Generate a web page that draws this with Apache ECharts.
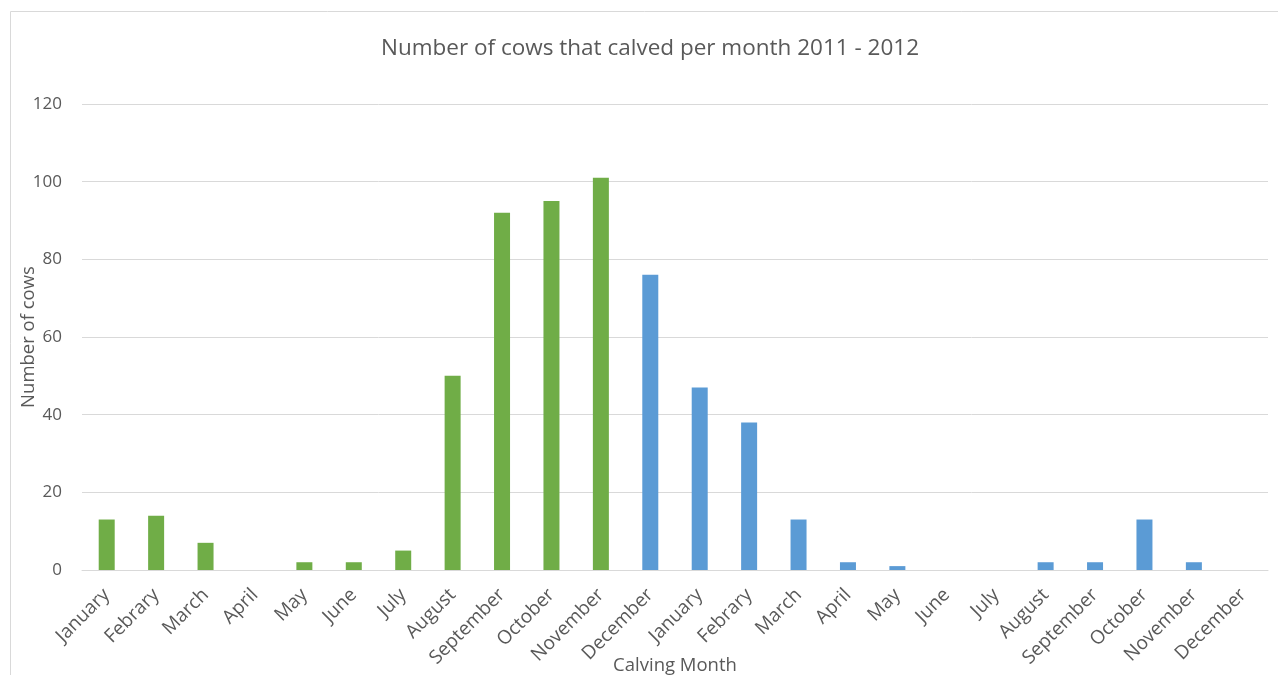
<!DOCTYPE html>
<html><head><meta charset="utf-8">
<script src="https://cdn.jsdelivr.net/npm/echarts@6/dist/echarts.min.js"></script>
<style>html,body{margin:0;padding:0;background:#fff}#c{width:1278px;height:675px}</style>
</head><body><div id="c"></div>
<script>
const months = ["January","Febrary","March","April","May","June","July","August","September","October","November","December","January","Febrary","March","April","May","June","July","August","September","October","November","December"];
const greenValues = [13,14,7,0,2,2,5,50,92,95,101];
const blueValues = [76,47,38,13,2,1,0,0,2,2,13,2,0];
const yTicks = [0,20,40,60,80,100,120];
const titleText = "Number of cows that calved per month 2011 - 2012";

const greenData = months.map((m,i)=> i < greenValues.length ? greenValues[i] : '-');
const blueData = months.map((m,i)=> i >= greenValues.length ? blueValues[i-greenValues.length] : '-');
const font = "'Open Sans', 'Noto Sans', sans-serif";
const chart = echarts.init(document.getElementById('c'));
chart.setOption({
  animation:false,
  textStyle:{fontFamily:font},
  graphic:[{type:'rect',shape:{x:10.5,y:11.5,width:1290,height:700},style:{fill:'none',stroke:'#d9d9d9',lineWidth:1},silent:true}],
  title:{text:titleText,top:37,textStyle:{fontFamily:font,fontSize:22.5,fontWeight:'normal',color:'#595959'},padding:0,
    left:650,textAlign:'center'},
  grid:{left:82,right:10,top:104,bottom:105,containLabel:false,outerBoundsMode:'none'},
  xAxis:{type:'category',data:months,
    axisLine:{lineStyle:{color:'#d9d9d9',width:1}},axisTick:{show:false},
    axisLabel:{rotate:45,interval:0,fontSize:19,color:'#595959',margin:22,fontFamily:font},
    name:'Calving Month',nameLocation:'middle',nameGap:86,nameMoveOverlap:false,nameTextStyle:{fontSize:18.5,color:'#595959',fontFamily:font}},
  yAxis:{type:'value',min:yTicks[0],max:yTicks[yTicks.length-1],interval:20,
    axisLine:{show:false},axisTick:{show:false},
    splitLine:{lineStyle:{color:'#d9d9d9',width:1}},
    axisLabel:{fontSize:17,color:'#595959',margin:20,fontFamily:font},
    name:'Number of cows',nameLocation:'middle',nameGap:44,nameRotate:90,nameMoveOverlap:false,nameTextStyle:{fontSize:18.5,color:'#595959',fontFamily:font}},
  series:[
    {type:'bar',stack:'a',data:greenData,barWidth:16,itemStyle:{color:'#70AD47'}},
    {type:'bar',stack:'a',data:blueData,barWidth:16,itemStyle:{color:'#5B9BD5'}}
  ]
});
</script></body></html>
